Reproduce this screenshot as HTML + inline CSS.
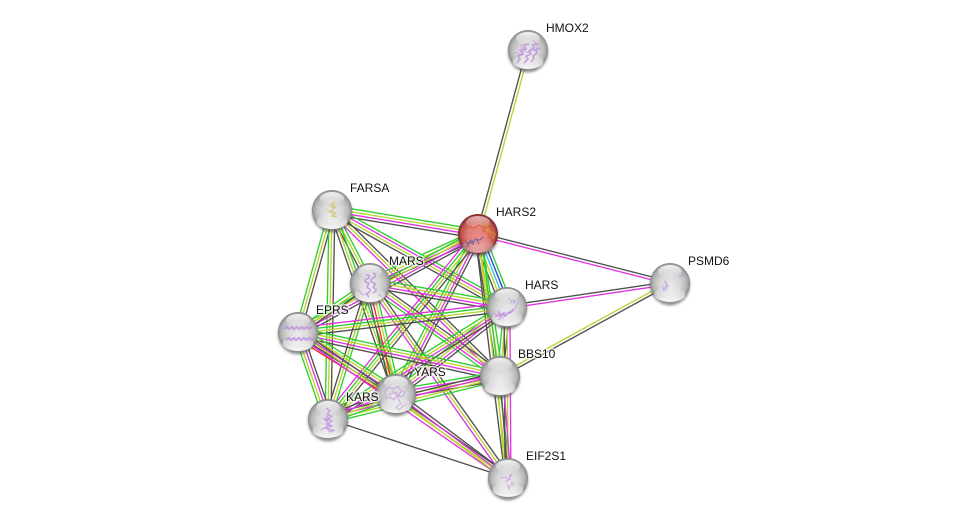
<!DOCTYPE html>
<html>
<head>
<meta charset="utf-8">
<style>
html,body{margin:0;padding:0;background:#fff;width:975px;height:523px;overflow:hidden}
svg{display:block}
text{font-family:"Liberation Sans",sans-serif;font-size:12px;fill:#111}
.h{stroke:#fff;stroke-width:3px;stroke-opacity:.7;paint-order:stroke;stroke-linejoin:round}
.p{fill:none;stroke:#c08fe0;stroke-width:.9;stroke-opacity:.75}
.q{fill:none;stroke:#c08fe0;stroke-width:1.7;stroke-opacity:.8}
</style>
</head>
<body>
<svg id="s" xmlns="http://www.w3.org/2000/svg" width="975" height="523" viewBox="0 0 975 523">
<defs>
<radialGradient id="b" cx=".5" cy=".5" r=".5" fx=".5" fy=".6">
<stop offset="0" stop-color="#ececec"/>
<stop offset=".5" stop-color="#d8d8d8"/>
<stop offset=".82" stop-color="#b8b8b8"/>
<stop offset=".95" stop-color="#989898"/>
<stop offset="1" stop-color="#808080"/>
</radialGradient>
<radialGradient id="r" cx=".5" cy=".5" r=".5" fx=".5" fy=".6">
<stop offset="0" stop-color="#ee8f8a"/>
<stop offset=".55" stop-color="#dd7a74"/>
<stop offset=".85" stop-color="#bb4f4c"/>
<stop offset="1" stop-color="#732525"/>
</radialGradient>
<linearGradient id="t" x1="0" y1="0" x2="0" y2="1">
<stop offset="0" stop-color="#fff" stop-opacity=".85"/>
<stop offset="1" stop-color="#fff" stop-opacity="0"/>
</linearGradient>
<linearGradient id="u" x1="0" y1="1" x2="0" y2="0">
<stop offset="0" stop-color="#fff" stop-opacity=".95"/>
<stop offset="1" stop-color="#fff" stop-opacity="0"/>
</linearGradient>
<filter id="sh" x="-30%" y="-30%" width="160%" height="160%"><feGaussianBlur stdDeviation="1.3"/></filter>
<g id="ball">
<circle cx="0" cy="2.4" r="20" fill="#444" opacity=".6" filter="url(#sh)"/>
<circle r="20" fill="url(#b)"/>
<ellipse cx="0" cy="-11.5" rx="12" ry="6.5" fill="url(#t)"/>
<ellipse cx="0" cy="11.5" rx="15.5" ry="7.5" fill="url(#u)"/>
</g>
<g id="ballr">
<circle cx="0" cy="2.4" r="20" fill="#444" opacity=".6" filter="url(#sh)"/>
<circle r="20" fill="url(#r)"/>
<ellipse cx="0" cy="-11.5" rx="12" ry="6.5" fill="url(#t)" opacity=".7"/>
<ellipse cx="0" cy="11.5" rx="15.5" ry="7.5" fill="url(#u)" opacity=".55"/>
</g>
</defs>
<rect width="975" height="523" fill="#fff"/>
<g id="edges" fill="none" stroke-width="1.35"></g>

<use href="#ball" x="528" y="50"/>
<path class="q" d="M517 63l3-4-2-3 5-2-3-4 6-1-2-4 5-1M524 63l4-4-2-3 5-2-2-3 5-2-1-4 5-1M531 62l3-4-1-2 4-3-1-3 4-2"/>
<path class="p" d="M516 52l5 3 3-5 4 3 3-5 4 3 3-5M520 45l4 4M533 40l3 4"/>
<use href="#ballr" x="478" y="234"/>
<path class="q" style="stroke:#e2592c;stroke-width:1.2" d="M468 226l6 2 5-3 5 3 5-1 3 4 3 5M484 226l-1 5 5 2 2 6"/>
<path class="q" style="stroke:#c99a22;stroke-width:1.2" d="M482 223l5 3 3 5 5 3-2 5M488 228l-2 7"/>
<path class="q" style="stroke:#6a5a96;stroke-width:1.3" d="M467 247l3-5 3 2 2-5 5 1 3-3M465 241l3 3 3-4 3 3M476 239l3 5"/>
<use href="#ball" x="332" y="210"/>
<path class="p" style="stroke:#cdb95a;stroke-width:1.2" d="M329 205l5 3-3 3 5 2-4 3 5 1M335 201l-3 5M327 210l8 5M331 203l5 5"/>
<use href="#ball" x="370" y="283"/>
<path class="q" d="M366 275c4-1 4 3 1 4s-2 4 1 4-3 4 0 5 3 3 0 5 2 3 0 4M373 273c3 1 3 4 0 5s-3 4 1 5-3 4 0 5 3 3-1 5"/>
<path class="p" d="M358 290l5 5 4-2M378 294l4 3"/>
<use href="#ball" x="507" y="307"/>
<path class="q" d="M495 317l4-3 1 3 4-3 1 2 4-4 1 1 3-4M498 311l3 4 4-3M513 300l2 3"/>
<path class="p" d="M498 320l5-2 4-5 5-1 4-5 2-5M509 298l3 5M493 313l4 2"/>
<use href="#ball" x="670" y="283"/>
<path class="p" d="M662 285l2 6 3-2-1-5 3 3M664 281l3 3-3 5M679 275l5 1M681 272l2 3"/>
<use href="#ball" x="298" y="332"/>
<path class="q" style="stroke-width:2.1" d="M284 329l3-2 2 2 3-2 2 2 3-2 2 2 3-2 2 2 3-2 2 2 3-2M286 340l3-2 2 2 3-2 2 2 3-2 2 2 3-2 2 2 3-2 2 2 3-2"/>
<use href="#ball" x="500" y="376"/>
<use href="#ball" x="396" y="394"/>
<path class="p" d="M385 392l4-5 5 2 4-3 3 5 4 1-3 5-5-1-3 4-4-3-4 1zM392 390l5 6 4-4M388 395l8-3 4 4-6 2M398 398l3 6-5 3 3 3 4-4 3-1"/>
<use href="#ball" x="328" y="419"/>
<path class="q" style="stroke-width:1.3" d="M326 408l4 3-3 3 5 2-5 3 5 2-6 3 6 2-7 2 8 2M323 418l4 3 4-4M321 430l5-3 4 5 5-2M329 414l-4 6 5 4-5 4"/>
<use href="#ball" x="508" y="478"/>
<path class="p" d="M501 478l5-1 2 4 2-6 3-1M507 483l2 6 3-7 2 4M512 474l-3 5M505 482l6-3"/>

<text class="h" x="546" y="32">HMOX2</text>
<text class="h" x="496" y="216">HARS2</text>
<text class="h" x="350" y="192">FARSA</text>
<text class="h" x="389" y="265">MARS</text>
<text class="h" x="525" y="289">HARS</text>
<text class="h" x="688" y="265">PSMD6</text>
<text class="h" x="316" y="314">EPRS</text>
<text class="h" x="518" y="358">BBS10</text>
<text class="h" x="414" y="376">YARS</text>
<text class="h" x="346" y="401">KARS</text>
<text class="h" x="526" y="460">EIF2S1</text>
</svg>
<script>
var N={HM:[528,50],H2:[478,234],FA:[332,210],MA:[370,283],HA:[507,307],PS:[670,283],EP:[298,332],BB:[500,376],YA:[396,394],KA:[328,419],EI:[508,478]};
var C={g:"#2fcf2f",y:"#b9d42e",m:"#df35df",d:"#505050",b:"#2a3fe0",c:"#35c0e0",r:"#ee2a2a"};
var E=[
["HM","H2","dy"],["H2","PS","dm"],["HA","PS","dm"],["BB","PS","yd"],["KA","EI","d"],
["FA","H2","gymd"],["FA","MA","gyd"],["FA","HA","gmyd"],["FA","EP","gyd"],["FA","BB","dym"],["FA","YA","gyd"],["FA","KA","gyd"],
["H2","MA","gymd"],["H2","HA","gbcyd"],["H2","EP","gymd"],["H2","BB","gyd"],["H2","YA","gymd"],["H2","KA","mgyd"],["H2","EI","gyd"],
["MA","HA","gymd"],["MA","EP","gyd"],["MA","BB","dymg"],["MA","YA","gyrd"],["MA","KA","dyg"],["MA","EI","dym"],
["HA","EP","mgyd"],["HA","BB","gyd"],["HA","YA","gymd"],["HA","KA","gymd"],["HA","EI","myd"],
["EP","BB","gymd"],["EP","YA","gymdr"],["EP","KA","dmyg"],["EP","EI","dym"],
["BB","YA","gmyd"],["BB","KA","dmyg"],["BB","EI","mdy"],
["YA","KA","dmyg"],["YA","EI","dmy"]
];
var g=document.getElementById("edges"),S=2.9,o="";
E.forEach(function(e){
var a=N[e[0]],b=N[e[1]],dx=b[0]-a[0],dy=b[1]-a[1],l=Math.hypot(dx,dy),nx=-dy/l,ny=dx/l,k=e[2].length;
if(ny<0||(ny===0&&nx<0)){nx=-nx;ny=-ny}
for(var i=0;i<k;i++){var t=(i-(k-1)/2)*S;
o+='<line x1="'+(a[0]+nx*t).toFixed(1)+'" y1="'+(a[1]+ny*t).toFixed(1)+'" x2="'+(b[0]+nx*t).toFixed(1)+'" y2="'+(b[1]+ny*t).toFixed(1)+'" stroke="'+C[e[2][i]]+'"/>';}
});
g.innerHTML=o;
</script>
</body>
</html>
